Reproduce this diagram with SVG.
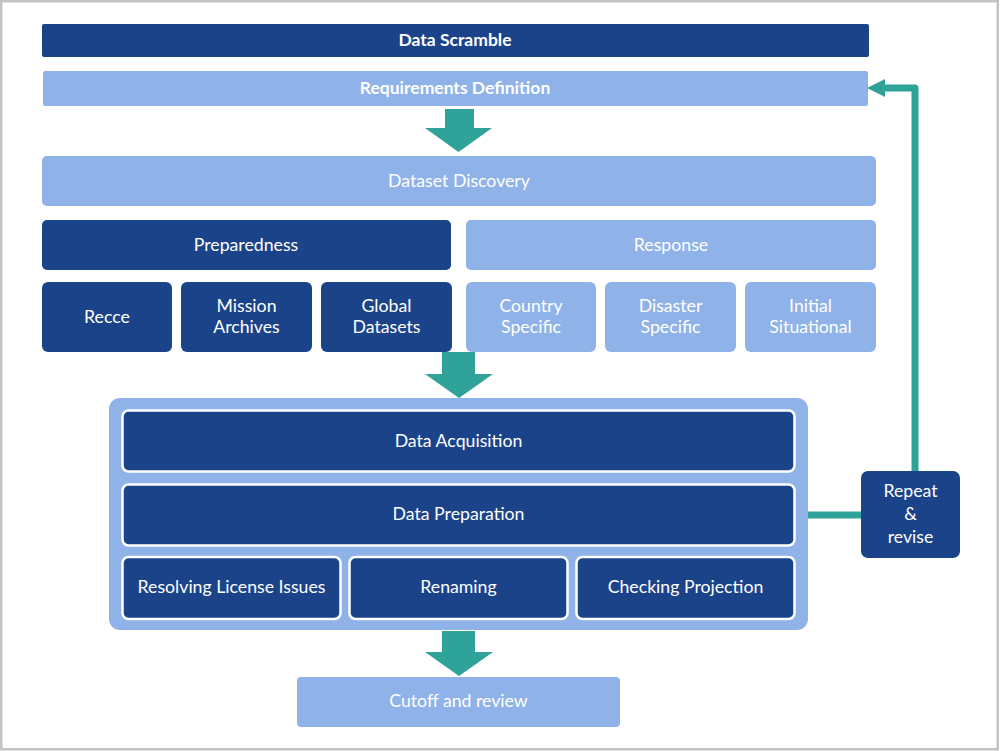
<svg xmlns="http://www.w3.org/2000/svg" width="1000" height="751" viewBox="0 0 1000 751">
<defs>
<style>
.dark{fill:#1b4389;}
.light{fill:#8fb2e9;}
.inner{fill:#1b4389;stroke:#ffffff;stroke-width:2.5;}
.t{font-family:Lato,"Open Sans","Liberation Sans",sans-serif;font-size:17.7px;fill:#ffffff;text-anchor:middle;dominant-baseline:central;}
.b{font-weight:bold;font-size:17.5px;}
.teal{fill:#2fa39a;}
.conn{fill:none;stroke:#2fa39a;stroke-width:7;stroke-linejoin:round;}
</style>
</defs>
<rect x="1.25" y="1.25" width="996.5" height="748" fill="#ffffff" stroke="#c3c3c3" stroke-width="2.5"/>
<g id="data-scramble"><rect class="dark" x="42" y="24" width="827" height="33" rx="2"/><text class="t b" x="455" y="39.5">Data Scramble</text></g>
<g id="requirements"><rect class="light" x="43" y="71" width="825" height="35" rx="2"/><text class="t b" x="455" y="87.5">Requirements Definition</text></g>
<g id="dataset-discovery"><rect class="light" x="42" y="156" width="834" height="50" rx="5"/><text class="t" x="459" y="180">Dataset Discovery</text></g>
<g id="preparedness"><rect class="dark" x="42" y="220" width="409" height="50" rx="5"/><text class="t" x="246" y="244">Preparedness</text></g>
<g id="response"><rect class="light" x="466" y="220" width="410" height="50" rx="5"/><text class="t" x="671" y="244">Response</text></g>
<g id="recce"><rect class="dark" x="42" y="282" width="130" height="70" rx="6"/><text class="t" x="107" y="316">Recce</text></g>
<g id="mission-archives"><rect class="dark" x="181" y="282" width="131" height="70" rx="6"/><text class="t" x="246.5" y="305">Mission</text><text class="t" x="246.5" y="326">Archives</text></g>
<g id="global-datasets"><rect class="dark" x="321" y="282" width="131" height="70" rx="6"/><text class="t" x="386.5" y="305">Global</text><text class="t" x="386.5" y="326">Datasets</text></g>
<g id="country-specific"><rect class="light" x="466" y="282" width="130" height="70" rx="6"/><text class="t" x="531" y="305">Country</text><text class="t" x="531" y="326">Specific</text></g>
<g id="disaster-specific"><rect class="light" x="605" y="282" width="131" height="70" rx="6"/><text class="t" x="670.5" y="305">Disaster</text><text class="t" x="670.5" y="326">Specific</text></g>
<g id="initial-situational"><rect class="light" x="745" y="282" width="131" height="70" rx="6"/><text class="t" x="810.5" y="305">Initial</text><text class="t" x="810.5" y="326">Situational</text></g>
<g id="processing"><rect class="light" x="109" y="398" width="699" height="232" rx="11"/></g>
<g id="data-acquisition"><rect class="inner" x="122.5" y="410.5" width="672" height="61" rx="6"/><text class="t" x="458.5" y="440">Data Acquisition</text></g>
<g id="data-preparation"><rect class="inner" x="122.5" y="484.5" width="672" height="61" rx="6"/><text class="t" x="458.5" y="513">Data Preparation</text></g>
<g id="resolving"><rect class="inner" x="122.5" y="557" width="218" height="62" rx="6"/><text class="t" x="231.5" y="586">Resolving License Issues</text></g>
<g id="renaming"><rect class="inner" x="349.5" y="557" width="218" height="62" rx="6"/><text class="t" x="458.5" y="586">Renaming</text></g>
<g id="checking"><rect class="inner" x="576.5" y="557" width="218" height="62" rx="6"/><text class="t" x="685.5" y="586">Checking Projection</text></g>
<g id="cutoff"><rect class="light" x="297" y="677" width="323" height="50" rx="4"/><text class="t" x="458.5" y="700">Cutoff and review</text></g>
<g id="repeat-revise"><rect class="dark" x="861" y="471" width="99" height="87" rx="7"/><text class="t" x="910.5" y="490">Repeat</text><text class="t" x="910.5" y="513">&amp;</text><text class="t" x="910.5" y="536">revise</text></g>
<g id="connectors">
<polygon class="teal" points="445,109 474,109 474,128 492,128 458.5,152 425,128 445,128"/>
<polygon class="teal" points="442,352 475,352 475,374 493,374 459,398 425,374 442,374"/>
<polygon class="teal" points="442,631 475,631 475,652 493,652 459,676 425,652 442,652"/>
<line class="conn" x1="808" y1="515" x2="861" y2="515"/>
<polyline class="conn" points="915,471 915,88 882,88"/>
<polygon class="teal" points="867,88 885,79 885,97"/>
</g>
</svg>
